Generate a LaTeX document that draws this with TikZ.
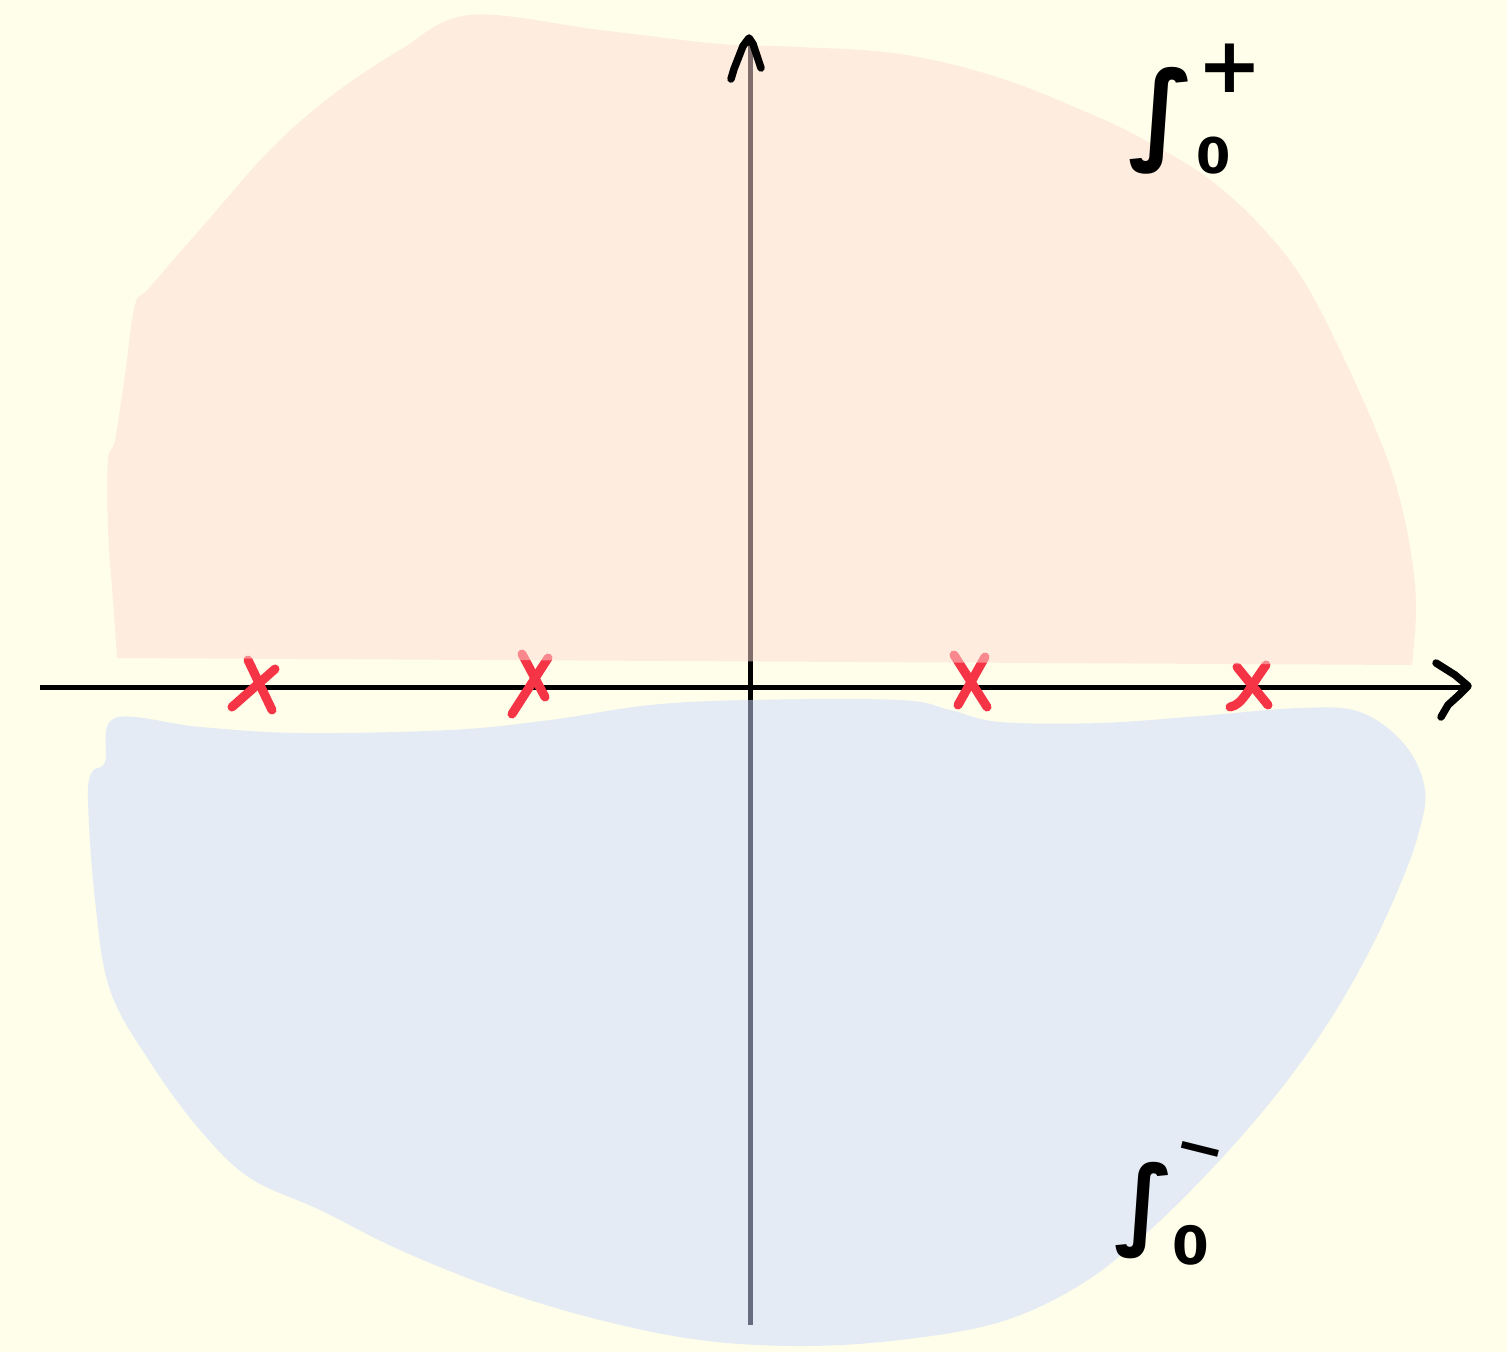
\documentclass[tikz,border=0pt]{standalone}
\usepackage{fontspec}
\newfontfamily\handfont{DejaVu Sans}
\definecolor{bgc}{RGB}{254,254,234}
\definecolor{pinkc}{RGB}{254,220,214}
\definecolor{bluec}{RGB}{204,218,255}
\definecolor{redc}{RGB}{245,52,70}
\begin{document}
\begin{tikzpicture}[x=0.01cm,y=-0.01cm,
  axisline/.style={line width=0.05cm,black},
  tipline/.style={line width=0.075cm,black,line cap=round,line join=round},
  crossline/.style={line width=0.09cm,redc,line cap=round,line join=round},
  region/.style={fill opacity=0.5},
  lab/.style={inner sep=0pt,font=\handfont\bfseries}]
\fill[bgc] (0,0) rectangle (1507,1352);
\useasboundingbox (0,0) rectangle (1507,1352);
% axes
\draw[axisline] (40,687) -- (1468,687);
\draw[axisline] (750,1325) -- (750,40);
% crosses
\draw[crossline] (248,660) -- (272,710);
\draw[crossline] (232,707) -- (275,669);
\draw[crossline] (522,654) -- (545,697);
\draw[crossline] (548,658) -- (512,714);
\draw[crossline] (954,655) -- (987,707);
\draw[crossline] (985,657) -- (958,705);
\draw[crossline] (1237,667) -- (1268,705);
\draw[crossline] (1266,665) .. controls (1248,690) and (1242,705) .. (1230,707);
% regions
\fill[pinkc,region] (117,658) -- (1412,665) -- plot[smooth,tension=0.6] coordinates {(1412,665) (1416,610) (1412,560) (1400,500) (1380,440) (1340,350) (1300,275) (1255,220) (1205,176) (1150,143) (1100,118) (1000,78) (900,54) (800,47) (720,44) (600,30) (470,15) (400,50) (330,97) (270,150) (210,218) (150,287) (135,305) (125,375) (115,440) (108,460) (108,530) (113,600) (117,658)} -- cycle;
\fill[bluec,region] plot[smooth cycle,tension=0.6] coordinates {(115,718) (200,727) (300,733) (450,730) (550,720) (650,705) (750,700) (900,700) (950,710) (1000,722) (1100,723) (1200,716) (1300,708) (1360,712) (1405,745) (1425,790) (1418,835) (1400,885) (1370,950) (1330,1020) (1280,1090) (1220,1160) (1150,1230) (1080,1285) (1000,1322) (900,1340) (800,1346) (700,1340) (600,1320) (500,1290) (400,1250) (320,1210) (250,1178) (200,1130) (150,1062) (110,990) (95,900) (88,800) (92,772) (105,762)};
% arrow tips
\draw[tipline] (1436,663) -- (1455,675) -- (1468,686) -- (1459,695) -- (1448,705) -- (1441,717);
\draw[tipline] (731,79) -- (734,69) -- (743,46) -- (749,38) -- (753,44) -- (761,68);
% labels
\node[lab,font=\handfont\bfseries\fontsize{31}{31}\selectfont] (splus) at (1162,121) {∫};
\node[lab,font=\handfont\bfseries\fontsize{14}{14}\selectfont] (zplus) at (1214,156) {0};
\node[lab,font=\handfont\bfseries\fontsize{22}{22}\selectfont] (plus) at (1230,68) {+};
\node[lab,font=\handfont\bfseries\fontsize{28}{28}\selectfont] (sminus) at (1144,1211) {∫};
\node[lab,font=\handfont\bfseries\fontsize{15}{15}\selectfont] (zminus) at (1191,1245) {0};
\node[lab,font=\handfont\bfseries\fontsize{17}{17}\selectfont,rotate=-14] (minus) at (1198,1157) {−};
\end{tikzpicture}
\end{document}
